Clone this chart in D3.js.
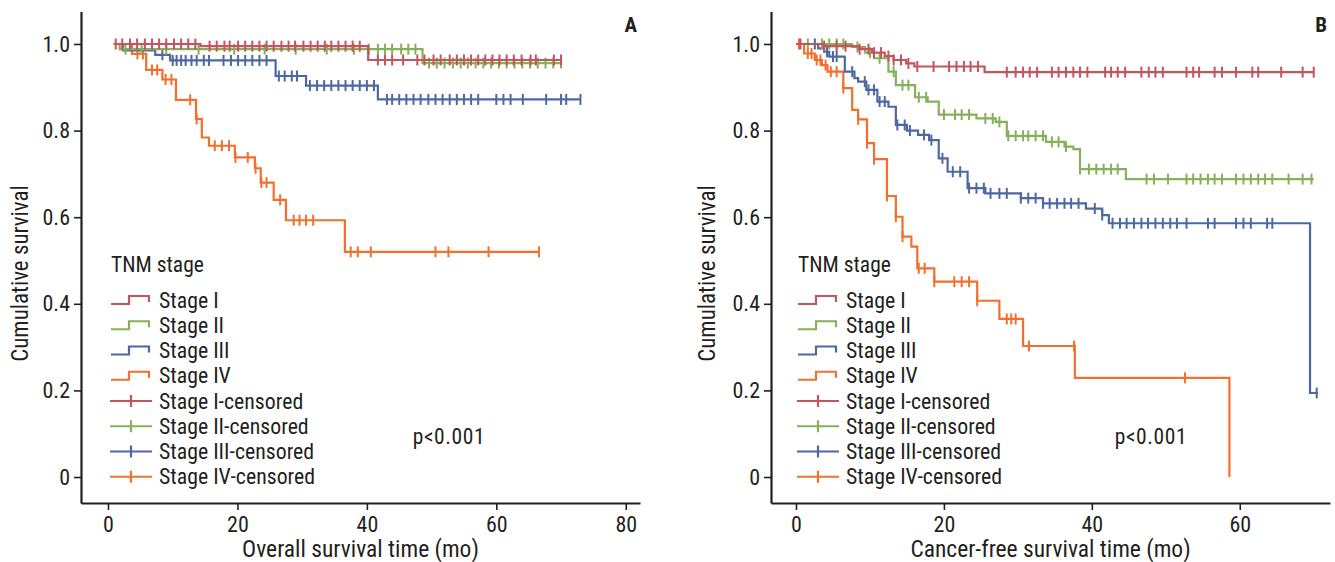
<!DOCTYPE html>
<html>
<head>
<meta charset="utf-8">
<script src="https://cdn.jsdelivr.net/npm/d3@7"></script>
<style>
  body { margin: 0; background: #fff; }
  text { font-family: "Liberation Sans Narrow", "Roboto Condensed", "DejaVu Sans Condensed", sans-serif; fill: #231f20; }
</style>
</head>
<body>
<script>
// stages and colours
const stageNames = ['Stage I', 'Stage II', 'Stage III', 'Stage IV'];
const stageColors = ['#c4545e', '#86b05a', '#4d68a2', '#f36f2c'];
const yTicks = [0, 0.2, 0.4, 0.6, 0.8, 1.0];

// A : overall survival, steps are [time (mo), survival after the step]
const osI = [[1.1, 1], [14.3, 0.995], [40.2, 0.963], [70, 0.963]];
const osII = [[1.1, 1], [1.8, 0.988], [48.6, 0.956], [70, 0.956]];
const osIII = [[1.1, 1], [2.3, 0.985], [7.3, 0.975], [9.6, 0.962], [25.9, 0.926], [30.6, 0.904], [41.7, 0.872], [73, 0.872]];
const osIV = [[0.8, 1], [3.7, 0.977], [5.9, 0.94], [8.4, 0.918], [10.5, 0.871], [13.6, 0.827], [14.5, 0.784], [15.6, 0.765],
  [19.6, 0.738], [22.7, 0.713], [23.6, 0.68], [25.6, 0.64], [27.5, 0.593], [36.6, 0.52], [66.6, 0.52]];

// A : censored times
const osIcens = [1.2, 2.2, 3.4, 4.5, 5.7, 6.8, 7.9, 9.0, 10.2, 11.3, 12.4, 13.5, 15.7, 16.8, 18.0, 18.8, 20.1, 21.2, 22.3,
  23.4, 24.5, 25.6, 26.8, 27.9, 28.9, 30.2, 31.3, 32.4, 33.5, 34.5, 35.6, 36.7, 37.8, 38.9, 41.7, 42.8, 43.9, 45.6, 47.8,
  48.9, 50.3, 51.4, 52.8, 53.9, 55.0, 56.1, 57.2, 58.3, 59.4, 60.5, 61.6, 62.7, 63.9, 65.3, 66.1, 68.9, 70.0];
const osIIcens = [2.7, 5.2, 9.0, 14.0, 19.5, 24.2, 29.0, 33.8, 38.0, 40.3, 41.7, 42.8, 43.9, 45.3, 46.4, 47.5, 49.6, 50.8,
  52.0, 53.3, 54.5, 55.6, 56.8, 58.0, 59.2, 60.4, 61.6, 62.8, 64.0, 65.2, 66.4, 67.6, 68.8, 70.0];
const osIIIcens = [8.4, 10.0, 10.6, 11.3, 12.0, 12.9, 13.7, 14.8, 15.6, 17.85, 19.0, 20.1, 21.2, 22.3, 23.4, 24.5, 26.4,
  27.3, 28.4, 29.2, 31.2, 32.3, 33.4, 34.5, 35.6, 36.7, 37.8, 38.9, 40.0, 41.1, 43.1, 43.9, 45.0, 46.1, 47.2, 48.3, 49.5,
  50.6, 51.7, 52.8, 53.9, 55.0, 56.1, 57.2, 60.0, 61.1, 62.2, 64.1, 67.7, 70.0, 70.8, 73.0];
const osIVcens = [4.55, 5.4, 6.8, 7.6, 8.9, 9.8, 12.7, 13.7, 16.5, 17.6, 18.7, 19.7, 21.6, 22.8, 23.7, 24.5, 26.6, 28.7,
  29.6, 30.6, 31.7, 37.5, 38.6, 40.6, 50.6, 52.6, 58.8, 66.6];

// B : cancer-free survival
const cfsI = [[0, 1], [3.7, 0.995], [8.5, 0.988], [10.3, 0.98], [12, 0.972], [13.2, 0.963], [14.9, 0.955], [16, 0.948],
  [25.5, 0.935], [70, 0.935]];
const cfsII = [[0, 1], [7.6, 0.993], [9.35, 0.98], [10.55, 0.967], [12.5, 0.936], [13.5, 0.905], [16.1, 0.877],
  [17.8, 0.867], [19.3, 0.837], [24.4, 0.828], [27.0, 0.82], [28.5, 0.788], [33.8, 0.774], [36.3, 0.763], [37.5, 0.757],
  [38.4, 0.711], [44.6, 0.688], [70, 0.688]];
const cfsIII = [[0, 1], [3.0, 0.99], [3.8, 0.982], [4.5, 0.971], [6.6, 0.936], [7.9, 0.921], [8.4, 0.913], [9.5, 0.894],
  [11.0, 0.867], [12.5, 0.855], [13.5, 0.813], [15.0, 0.8], [16.5, 0.79], [18.0, 0.778], [19.3, 0.736], [20.5, 0.705],
  [23.2, 0.667], [25.6, 0.655], [30.4, 0.644], [33.4, 0.632], [39.2, 0.62], [41.4, 0.605], [42.3, 0.586], [69.5, 0.194],
  [70.6, 0.194]];
const cfsIV = [[0, 1], [1.1, 0.978], [2.55, 0.963], [3.5, 0.951], [4.25, 0.936], [6.4, 0.898], [7.6, 0.848], [8.4, 0.826],
  [9.6, 0.771], [10.55, 0.734], [12.3, 0.649], [13.5, 0.601], [14.4, 0.555], [15.6, 0.532], [16.4, 0.482], [18.7, 0.451],
  [24.5, 0.407], [27.5, 0.365], [30.7, 0.3025], [37.7, 0.229], [58.6, 0]];

const cfsIcens = [0.6, 3.8, 5.5, 6.7, 8.6, 9.8, 10.55, 11.5, 12.5, 13.2, 14.2, 15.2, 16.4, 18.6, 20.7, 21.7, 22.7, 23.6,
  24.6, 28.5, 29.7, 30.7, 31.6, 32.6, 34.6, 35.5, 36.5, 37.5, 38.4, 39.4, 41.8, 42.6, 43.5, 44.5, 46.7, 47.7, 48.6, 49.6,
  52.8, 53.7, 54.5, 56.6, 57.6, 59.5, 61.7, 62.5, 65.6, 68.5, 70.0];
const cfsIIcens = [1.6, 3.5, 4.5, 5.5, 6.4, 8.3, 10.0, 11.3, 13.2, 14.4, 15.2, 16.6, 17.6, 20.0, 21.5, 22.4, 23.4, 25.6,
  26.6, 27.5, 28.7, 29.7, 30.7, 31.4, 32.4, 33.4, 34.6, 35.5, 36.5, 38.4, 39.6, 40.6, 41.6, 42.6, 43.5, 47.4, 48.4, 50.3,
  52.8, 53.7, 54.7, 55.7, 56.6, 57.6, 59.5, 60.5, 61.5, 62.5, 63.4, 64.4, 66.6, 68.5, 69.7];
const cfsIIIcens = [2.55, 4.2, 5.0, 5.5, 7.6, 9.3, 9.8, 10.55, 11.3, 12.0, 13.7, 14.7, 15.4, 17.3, 18.3, 19.8, 21.2, 22.2,
  23.4, 24.4, 25.4, 26.3, 27.5, 28.5, 30.4, 31.4, 32.4, 33.4, 34.3, 35.3, 36.3, 37.2, 38.2, 40.4, 41.4, 42.8, 43.8, 44.7,
  45.7, 46.7, 47.6, 48.6, 49.6, 50.6, 51.5, 52.8, 55.7, 56.6, 59.5, 60.5, 61.5, 63.7, 64.4, 70.4];
const cfsIVcens = [0.4, 1.6, 2.1, 2.8, 3.3, 4.0, 4.7, 5.5, 6.4, 8.4, 9.6, 10.55, 12.3, 13.5, 14.4, 16.6, 17.4, 18.7, 21.4,
  22.4, 23.4, 24.5, 28.5, 29.1, 29.7, 31.5, 37.6, 52.6];

const W = 1335, H = 562;
const svg = d3.select('body').append('svg').attr('width', W).attr('height', H);

const panels = [
  { letter: 'A', title: 'Overall survival time (mo)', xDomain: [-4.17, 82.2], xRange: [81, 640], xTicks: [0, 20, 40, 60, 80],
    steps: [osI, osII, osIII, osIV], cens: [osIcens, osIIcens, osIIIcens, osIVcens], legX: 111, pX: 449, yLabX: 20 },
  { letter: 'B', title: 'Cancer-free survival time (mo)', xDomain: [-3.38, 72.2], xRange: [771, 1330], xTicks: [0, 20, 40, 60],
    steps: [cfsI, cfsII, cfsIII, cfsIV], cens: [cfsIcens, cfsIIcens, cfsIIIcens, cfsIVcens], legX: 798, pX: 1151, yLabX: 707 }
];

const y = d3.scaleLinear().domain([-0.06, 1.075]).range([503, 11.5]);

// survival level at time t (step after)
const levelAt = (steps, t) => {
  let v = steps[0][1];
  steps.forEach(s => { if (s[0] <= t + 1e-9) v = s[1]; });
  return v;
};

panels.forEach(p => {
  const x = d3.scaleLinear().domain(p.xDomain).range(p.xRange);
  const g = svg.append('g');

  // axes
  const ax = g.append('g').attr('transform', `translate(0,${y.range()[0]})`)
    .call(d3.axisBottom(x).tickValues(p.xTicks).tickSize(7).tickSizeOuter(0).tickPadding(6));
  const ay = g.append('g').attr('transform', `translate(${x.range()[0]},0)`)
    .call(d3.axisLeft(y).tickValues(yTicks).tickSize(7).tickSizeOuter(0).tickPadding(4)
      .tickFormat(d => d === 0 ? '0' : d.toFixed(1)));
  [ax, ay].forEach(a => {
    a.attr('font-family', null);
    a.select('.domain').attr('stroke', '#231f20').attr('stroke-width', 2.2);
    a.selectAll('.tick line').attr('stroke', '#231f20').attr('stroke-width', 1.6);
    a.selectAll('.tick text').attr('font-size', 22).attr('fill', '#231f20');
  });

  // axis titles
  g.append('text').attr('x', (x.range()[0] + x.range()[1]) / 2).attr('y', 557).attr('text-anchor', 'middle')
    .attr('font-size', 23.5).text(p.title);
  g.append('text').attr('transform', `translate(${p.yLabX + 8},${y(0.47)}) rotate(-90)`).attr('text-anchor', 'middle')
    .attr('font-size', 23).text('Cumulative survival');
  g.append('text').attr('x', x.range()[1] - 3).attr('y', 32).attr('text-anchor', 'end')
    .attr('font-family', '"Liberation Sans", Arial, sans-serif').attr('font-weight', 'bold').attr('font-size', 21)
    .text(p.letter);

  // curves (stage IV first, stage I on top)
  const line = d3.line().curve(d3.curveStepAfter).x(d => x(d[0])).y(d => y(d[1]));
  [3, 2, 1, 0].forEach(i => {
    g.append('path').attr('d', line(p.steps[i])).attr('fill', 'none')
      .attr('stroke', stageColors[i]).attr('stroke-width', 2.2);
    g.append('g').selectAll('line').data(p.cens[i]).join('line')
      .attr('x1', d => x(d)).attr('x2', d => x(d))
      .attr('y1', d => y(levelAt(p.steps[i], d)) - 5.5)
      .attr('y2', d => y(levelAt(p.steps[i], d)) + 5.5)
      .attr('stroke', stageColors[i]).attr('stroke-width', 2);
  });

  // legend
  const leg = g.append('g').attr('transform', `translate(${p.legX},0)`);
  leg.append('text').attr('x', 0).attr('y', 272).attr('font-size', 21.5).text('TNM stage');
  const rows = stageNames.map((n, i) => ({ name: n, color: stageColors[i], cens: false }))
    .concat(stageNames.map((n, i) => ({ name: n + '-censored', color: stageColors[i], cens: true })));
  rows.forEach((r, k) => {
    const cy = 300 + k * 25.25;
    const it = leg.append('g').attr('transform', `translate(0,${cy})`);
    if (r.cens) {
      it.append('path').attr('d', 'M-1,0H41M20,-6V6').attr('stroke', r.color).attr('stroke-width', 2.2).attr('fill', 'none');
    } else {
      it.append('path').attr('d', 'M0,4H18V-4H38V2').attr('stroke', r.color).attr('stroke-width', 2.2).attr('fill', 'none');
    }
    it.append('text').attr('x', 48).attr('y', 7.5).attr('font-size', 21.8).text(r.name);
  });

  g.append('text').attr('x', p.pX).attr('y', 444).attr('text-anchor', 'middle').attr('font-size', 21.5)
    .attr('letter-spacing', 0.6).text('p<0.001');
});
</script>
</body>
</html>
